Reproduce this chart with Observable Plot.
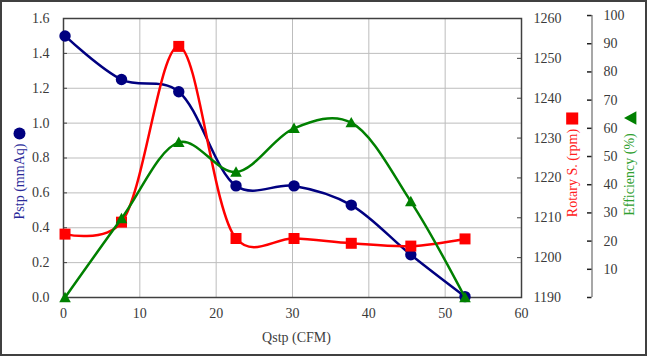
<!DOCTYPE html>
<html><head><meta charset="utf-8">
<script src="https://cdn.jsdelivr.net/npm/d3@7"></script>
<script src="https://cdn.jsdelivr.net/npm/@observablehq/plot@0.6"></script>
<style>
body{margin:0;background:#fff;}
#chart{position:relative;width:647px;height:356px;}
#chart svg{display:block;}
#chart svg text, #chart svg g{font-family:"Liberation Serif","Times New Roman",serif !important;font-size:14px !important;}
#border{position:absolute;left:0;top:0;width:647px;height:356px;box-sizing:border-box;border:2px solid #404040;pointer-events:none;}
</style></head><body>
<div id="chart"><div id="border"></div></div>
<script>
// ---- data ----
const qstp = [0.2, 7.6, 15.1, 22.6, 30.2, 37.7, 45.5, 52.6];
const pstp = [1.50, 1.25, 1.18, 0.64, 0.64, 0.53, 0.245, 0.005];
const rotary = [1205.9, 1208.9, 1253.0, 1204.8, 1204.8, 1203.6, 1202.9, 1204.7];
const efficiency = [0, 28, 55, 44.5, 60, 62, 34, 0];
const xTicks = [0, 10, 20, 30, 40, 50, 60];
const pTicks = [0, 0.2, 0.4, 0.6, 0.8, 1.0, 1.2, 1.4, 1.6];
const rpmTicks = [1190, 1200, 1210, 1220, 1230, 1240, 1250, 1260];
const effLabels = [10, 20, 30, 40, 50, 60, 70, 80, 90, 100];
const effTickMarks = [0, 10, 20, 30, 40, 50, 60, 70, 80, 90, 100];
const xLabel = "Qstp (CFM)";
const pLabel = "Pstp (mmAq)";
const rpmLabel = "Rotary S. (rpm)";
const effLabel = "Efficiency (%)";

// ---- secondary-axis mappings onto the primary y scale ----
const rpmMin = 1190, rpmMax = 1260, pMax = 1.6, effMaxP = 1.617;
const rpmToP = r => (r - rpmMin) / (rpmMax - rpmMin) * pMax;
const pToRpm = p => p / pMax * (rpmMax - rpmMin) + rpmMin;
const effToP = e => e / 100 * effMaxP;
const pToEff = p => p / effMaxP * 100;

const data = qstp.map((q, i) => ({q, p: pstp[i], r: rotary[i], e: efficiency[i]}));

const triUp = {draw(ctx, size) { const r = Math.sqrt(size / Math.PI);
  ctx.moveTo(0, -r); ctx.lineTo(r * 1.0, r * 0.8); ctx.lineTo(-r * 1.0, r * 0.8); ctx.closePath(); }};
const triLeft = {draw(ctx, size) { const r = Math.sqrt(size / Math.PI);
  ctx.moveTo(-r, 0); ctx.lineTo(r * 0.9, -r * 1.05); ctx.lineTo(r * 0.9, r * 1.05); ctx.closePath(); }};

const NAVY = "#000080", RED = "#ff0000", GREEN = "#008000";
const grid = {stroke: "#bdbdbd", strokeOpacity: 1, strokeWidth: 1};
const CURVE = "catmull-rom", TENSION = 0.25;

const chart = Plot.plot({
  width: 647, height: 356,
  marginLeft: 63, marginRight: 126, marginTop: 18, marginBottom: 59,
  style: {fontFamily: "'Liberation Serif', 'Times New Roman', serif", fontSize: "14px", color: "#3a3a3a", background: "white", overflow: "visible"},
  x: {domain: [0, 60]},
  y: {domain: [0, 1.6]},
  marks: [
    Plot.gridX(xTicks, grid),
    Plot.gridY(pTicks, grid),
    Plot.ruleY(pTicks, {x1: 0, x2: 0, insetRight: -4, stroke: "#404040"}),
    Plot.ruleY(rpmTicks, {y: rpmToP, x1: 60, x2: 60, insetLeft: -4, stroke: "#404040"}),
    Plot.frame({stroke: "#404040", strokeWidth: 1.5}),
    Plot.axisX(xTicks, {tickSize: 0, tickPadding: 11, label: null, fontFamily: "Liberation Serif"}),
    Plot.axisY(pTicks, {anchor: "left", tickSize: 0, tickPadding: 14, tickFormat: d => d.toFixed(1), label: null, fontFamily: "Liberation Serif"}),
    Plot.axisY(rpmTicks.map(rpmToP), {anchor: "right", tickSize: 0, tickPadding: 12, tickFormat: d => String(Math.round(pToRpm(d))), label: null, fontFamily: "Liberation Serif"}),
    Plot.ruleX([60], {y1: 0, y2: effMaxP, dx: 70.5, stroke: "#8a8a8a", strokeWidth: 1.5}),
    Plot.ruleY(effTickMarks, {y: effToP, x1: 60, x2: 60, insetLeft: -4.5, dx: 70.5, stroke: "#202020", strokeWidth: 1.5}),
    Plot.axisY(effLabels.map(effToP), {anchor: "right", tickSize: 0, tickPadding: 82, tickFormat: d => String(Math.round(pToEff(d))), label: null, fontFamily: "Liberation Serif"}),
    // series
    Plot.line(data, {x: "q", y: "p", curve: CURVE, tension: TENSION, stroke: NAVY, strokeWidth: 2.5}),
    Plot.dot(data, {x: "q", y: "p", r: 5.7, fill: NAVY, symbol: "circle"}),
    Plot.line(data, {x: "q", y: d => rpmToP(d.r), curve: CURVE, tension: TENSION, stroke: RED, strokeWidth: 2.5}),
    Plot.dot(data, {x: "q", y: d => rpmToP(d.r), r: 6.2, fill: RED, symbol: "square"}),
    Plot.line(data, {x: "q", y: d => effToP(d.e), curve: CURVE, tension: TENSION, stroke: GREEN, strokeWidth: 2.5}),
    Plot.dot(data, {x: "q", y: d => effToP(d.e), r: 5.8, fill: GREEN, symbol: triUp}),
    // axis titles + legend symbols
    Plot.text([xLabel], {frameAnchor: "bottom", dy: 40, dx: 4, text: d => d, fill: "#404040", textAnchor: "middle", lineAnchor: "middle"}),
    Plot.text([pLabel], {frameAnchor: "left", dx: -44, dy: 23.5, rotate: -90, text: d => d, fill: "#2a2a9a", textAnchor: "middle", lineAnchor: "middle"}),
    Plot.dot([pLabel], {frameAnchor: "left", dx: -44, dy: -24.5, r: 6, fill: NAVY, symbol: "circle"}),
    Plot.text([rpmLabel], {frameAnchor: "right", dx: 51, dy: 15, rotate: -90, text: d => d, fill: "#ff2020", textAnchor: "middle", lineAnchor: "middle"}),
    Plot.dot([rpmLabel], {frameAnchor: "right", dx: 50.7, dy: -39.5, r: 6.8, fill: RED, symbol: "square"}),
    Plot.text([effLabel], {frameAnchor: "right", dx: 108, dy: 16.5, rotate: -90, text: d => d, fill: "#30a030", textAnchor: "middle", lineAnchor: "middle"}),
    Plot.dot([effLabel], {frameAnchor: "right", dx: 109, dy: -40, r: 6.5, fill: GREEN, symbol: triLeft})
  ]
});
document.getElementById("chart").prepend(chart);
</script>
</body></html>
